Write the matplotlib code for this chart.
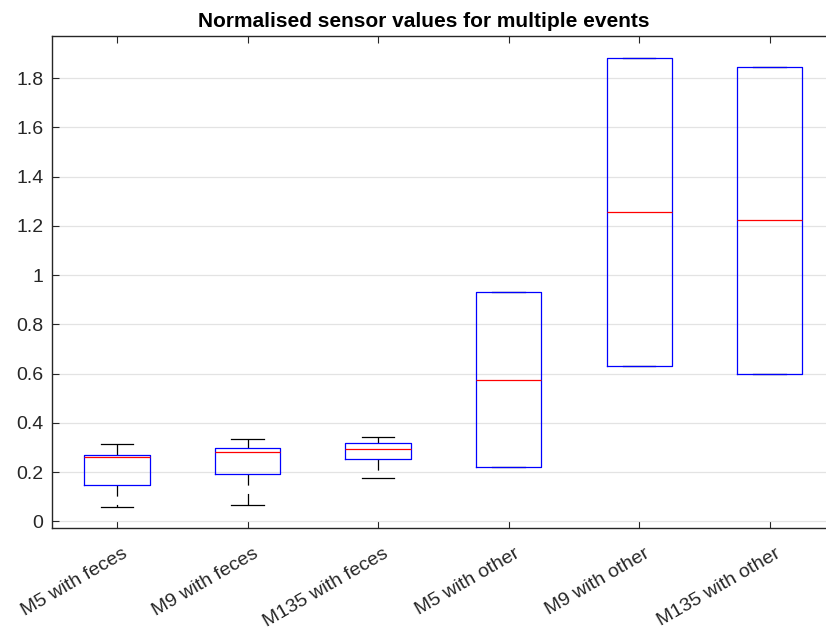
import numpy as np
import matplotlib
matplotlib.use("Agg")
import matplotlib.pyplot as plt
import matplotlib.transforms as mtransforms

plt.rcParams['font.family'] = ['Liberation Sans', 'DejaVu Sans']
plt.rcParams['lines.scale_dashes'] = False

# box statistics
labels = ["M5 with feces", "M9 with feces", "M135 with feces",
          "M5 with other", "M9 with other", "M135 with other"]
whislo = [0.060, 0.065, 0.175, 0.221, 0.629, 0.600]
q1 = [0.146, 0.191, 0.255, 0.221, 0.629, 0.600]
med = [0.260, 0.280, 0.295, 0.574, 1.257, 1.222]
q3 = [0.271, 0.299, 0.318, 0.932, 1.880, 1.845]
whishi = [0.315, 0.334, 0.341, 0.932, 1.880, 1.845]

stats = []
for i in range(len(labels)):
    stats.append(dict(label=labels[i], whislo=whislo[i], q1=q1[i], med=med[i],
                      q3=q3[i], whishi=whishi[i], fliers=[]))

fig = plt.figure(figsize=(8.26, 6.32), dpi=100)
ax = fig.add_axes([51.7/826, 104/632, (835-51.7)/826, (528.3-36)/632])

ax.bxp(stats, positions=np.arange(1, 7), widths=0.5, showfliers=False,
       boxprops=dict(color='#0000ff', linewidth=0.9, zorder=4),
       medianprops=dict(color='#ff0000', linewidth=0.9, zorder=5),
       whiskerprops=dict(color='black', linewidth=0.9, linestyle=(0, (8, 6)), zorder=2),
       capprops=dict(color='black', linewidth=0.9, zorder=2))

ax.set_xlim(0.5, 6.5)
ax.set_ylim(-0.027, 1.972)
ax.set_yticks(np.arange(0, 1.81, 0.2))
ax.set_yticklabels(['0', '0.2', '0.4', '0.6', '0.8', '1', '1.2', '1.4', '1.6', '1.8'])
ax.yaxis.grid(True, color='#e3e3e3', linewidth=0.9)
ax.set_axisbelow(True)

ax.tick_params(direction='in', length=5, width=0.8, colors='#262626',
               labelsize=14, top=True, right=False, pad=6)
for s in ax.spines.values():
    s.set_color('#262626')
    s.set_linewidth(1.0)
ax.spines['right'].set_visible(False)

ax.set_xticks(np.arange(1, 7))
ax.set_xticklabels(labels, rotation=30, ha='right', va='top',
                   rotation_mode='anchor', fontsize=14, color='#262626')
offset = mtransforms.ScaledTranslation(5/100, -9/100, fig.dpi_scale_trans)
for lab in ax.get_xticklabels():
    lab.set_transform(lab.get_transform() + offset)

ax.set_title("Normalised sensor values for multiple events", fontsize=15,
             fontweight='bold', x=(424-51.7)/(835-51.7), pad=6)

fig.savefig("out.png", dpi=100)
